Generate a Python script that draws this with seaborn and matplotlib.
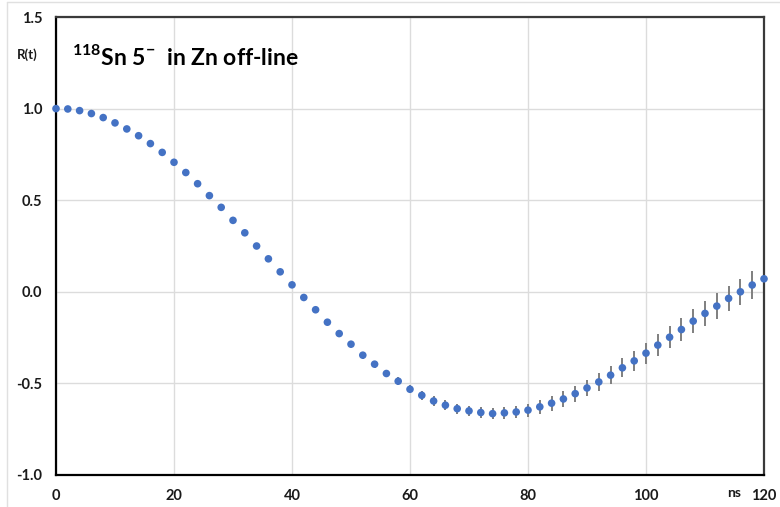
import numpy as np
import pandas as pd
import matplotlib
matplotlib.use("Agg")
import matplotlib.pyplot as plt
from matplotlib.lines import Line2D
import seaborn as sns

# ---- data ----
t_ns = list(range(0, 121, 2))
r_t = [1.000, 0.998, 0.989, 0.973, 0.951, 0.922, 0.889, 0.852, 0.809, 0.761,
       0.707, 0.651, 0.590, 0.525, 0.461, 0.390, 0.322, 0.250, 0.180, 0.109,
       0.038, -0.031, -0.098, -0.166, -0.228, -0.286, -0.346, -0.395, -0.446, -0.488,
       -0.532, -0.565, -0.596, -0.619, -0.638, -0.650, -0.659, -0.665, -0.661, -0.656,
       -0.646, -0.628, -0.608, -0.585, -0.556, -0.525, -0.492, -0.455, -0.415, -0.377,
       -0.335, -0.291, -0.248, -0.206, -0.160, -0.118, -0.078, -0.036, 0.000, 0.037,
       0.071]
r_err = [0.000, 0.001, 0.002, 0.002, 0.003, 0.003, 0.004, 0.004, 0.005, 0.005,
         0.006, 0.006, 0.007, 0.007, 0.008, 0.008, 0.009, 0.010, 0.011, 0.012,
         0.013, 0.014, 0.015, 0.016, 0.017, 0.018, 0.019, 0.020, 0.021, 0.022,
         0.023, 0.024, 0.025, 0.026, 0.027, 0.028, 0.030, 0.031, 0.032, 0.034,
         0.036, 0.038, 0.040, 0.042, 0.044, 0.046, 0.047, 0.049, 0.052, 0.055,
         0.057, 0.059, 0.061, 0.063, 0.064, 0.066, 0.069, 0.070, 0.072, 0.074,
         0.076]
x_ticks = [0, 20, 40, 60, 80, 100, 120]
y_ticks = [-1.0, -0.5, 0.0, 0.5, 1.0, 1.5]
title_text = r"$^{\mathbf{118}}$Sn 5$^{\mathbf{-}}$  in Zn off-line"
y_label = "R(t)"
x_unit = "ns"

df = pd.DataFrame({"t": t_ns, "R": r_t, "err": r_err})

sns.set_theme(style="white")
plt.rcParams["font.family"] = ["Lato", "DejaVu Sans"]
plt.rcParams["mathtext.fontset"] = "custom"
plt.rcParams["mathtext.rm"] = "Lato"
plt.rcParams["mathtext.bf"] = "Lato:bold"

fig = plt.figure(figsize=(7.8, 5.07), dpi=100)
ax = fig.add_axes([56 / 780, 1 - 475 / 507, (764 - 56) / 780, (475 - 17) / 507])

ax.errorbar(df["t"], df["R"], yerr=df["err"], fmt="none", ecolor="#7f7f7f",
            elinewidth=1.4, capsize=0, zorder=2)
sns.scatterplot(data=df, x="t", y="R", ax=ax, color="#4472C4", s=30,
                edgecolor="none", zorder=3, clip_on=False)

ax.set_xlim(0, 120)
ax.set_ylim(-1.0, 1.5)
ax.set_xticks(x_ticks)
ax.set_yticks(y_ticks)
ax.set_xticklabels([str(v) for v in x_ticks])
ax.set_yticklabels([f"{v:.1f}" for v in y_ticks])
ax.set_xlabel("")
ax.set_ylabel("")

ax.grid(True, color="#dcdcdc", linewidth=1.0)
ax.set_axisbelow(True)

for side in ["left", "bottom"]:
    ax.spines[side].set_color("black")
    ax.spines[side].set_linewidth(1.6)
for side in ["top", "right"]:
    ax.spines[side].set_visible(True)
    ax.spines[side].set_color("#3a3a3a")
    ax.spines[side].set_linewidth(1.6)

ax.tick_params(axis="both", which="major", direction="out", length=5, width=1.4,
               color="black", labelsize=10.5, pad=5)
ax.tick_params(axis="x", pad=5)
for lab in ax.get_xticklabels() + ax.get_yticklabels():
    lab.set_fontweight("bold")
    lab.set_color("#1a1a1a")

ax.text(-0.040, 0.917, y_label, transform=ax.transAxes, ha="center", va="center",
        fontsize=9.5, fontweight="bold", color="#1a1a1a")
ax.text(0.958, -0.040, x_unit, transform=ax.transAxes, ha="center", va="center",
        fontsize=10, fontweight="bold", color="#1a1a1a")
ax.text(0.022, 0.913, title_text, transform=ax.transAxes, ha="left", va="center",
        fontsize=16.5, fontweight="bold", color="black")

# faint frame of the original picture
fig.add_artist(Line2D([7 / 780, 7 / 780], [0, 1 - 2 / 507], transform=fig.transFigure,
                      color="#e0e0e0", linewidth=1))
fig.add_artist(Line2D([7 / 780, 1], [1 - 2 / 507, 1 - 2 / 507], transform=fig.transFigure,
                      color="#e0e0e0", linewidth=1))

fig.savefig("out.png", dpi=100)
